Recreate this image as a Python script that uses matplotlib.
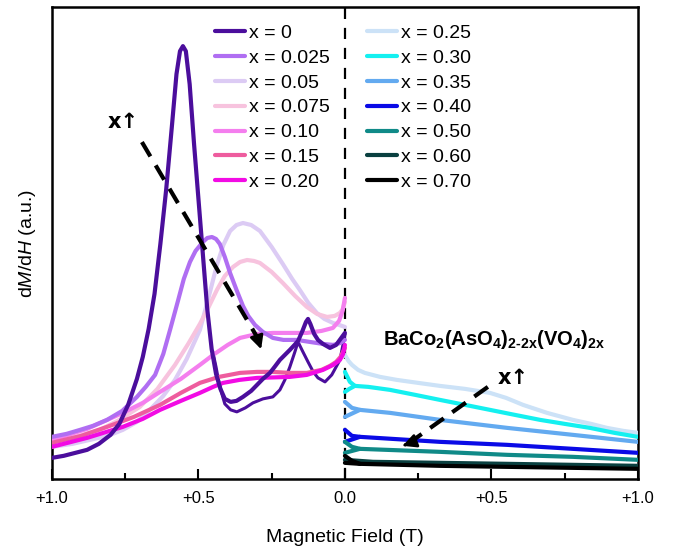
import matplotlib
matplotlib.use("Agg")
import matplotlib.pyplot as plt

plt.rcParams['font.family'] = ['Liberation Sans', 'DejaVu Sans']
plt.rcParams['mathtext.fontset'] = 'custom'
plt.rcParams['mathtext.rm'] = 'Liberation Sans'
plt.rcParams['mathtext.it'] = 'Liberation Sans:italic'
plt.rcParams['mathtext.bf'] = 'Liberation Sans:bold'

# ---- left half: x = 0 ... 0.20 (field -1 .. 0) ----
x0_h = [-1.0, -0.96, -0.92, -0.88, -0.84, -0.80, -0.77, -0.74, -0.71, -0.69, -0.67, -0.65,
        -0.63, -0.61, -0.59, -0.575, -0.563, -0.553, -0.543, -0.53, -0.515, -0.50, -0.485,
        -0.47, -0.455, -0.44, -0.425, -0.41, -0.39, -0.37, -0.348, -0.32, -0.30, -0.28,
        -0.256, -0.24, -0.222, -0.205, -0.188, -0.172, -0.160, -0.145, -0.133, -0.126,
        -0.118, -0.105, -0.092, -0.075, -0.051, -0.03, -0.015, 0.0]
x0_v = [21, 23, 26, 29, 35, 44, 55, 74, 100, 122, 150, 185,
        235, 290, 355, 405, 428, 433, 428, 395, 335, 280, 225,
        170, 130, 105, 90, 80, 77, 78, 82, 88, 94, 100,
        106, 112, 119, 124, 129, 134, 138, 148, 157, 160,
        155, 145, 139, 135, 131, 134, 140, 146]
# return branch of x = 0
x0b_h = [-0.451, -0.44, -0.433, -0.42, -0.41, -0.39, -0.369, -0.34, -0.314, -0.28, -0.246,
         -0.222, -0.205, -0.188, -0.172, -0.160, -0.145, -0.126, -0.108, -0.092, -0.068,
         -0.045, -0.017, 0.0]
x0b_v = [127, 112, 101, 85, 75, 69, 67, 71, 76, 80, 82,
         89, 99, 112, 126, 137, 128, 117, 107, 101, 97,
         104, 119, 144]

x025_h = [-1.0, -0.95, -0.904, -0.86, -0.812, -0.76, -0.71, -0.68, -0.648, -0.62, -0.597,
          -0.57, -0.55, -0.529, -0.51, -0.485, -0.47, -0.454, -0.44, -0.427, -0.41, -0.392,
          -0.37, -0.348, -0.33, -0.307, -0.28, -0.246, -0.21, -0.164, -0.12, -0.075,
          -0.04, -0.015, 0.0]
x025_v = [42, 45, 49, 53, 59, 68, 82, 92, 104, 125, 149,
          178, 200, 217, 228, 237, 241, 242, 240, 235, 222, 206,
          189, 173, 163, 154, 147, 141, 139, 139, 137, 135,
          134, 136, 139]

x05_h = [-1.0, -0.93, -0.87, -0.81, -0.758, -0.71, -0.666, -0.62, -0.58, -0.54, -0.495,
         -0.465, -0.437, -0.415, -0.392, -0.37, -0.348, -0.32, -0.29, -0.25, -0.212, -0.18,
         -0.154, -0.125, -0.096, -0.07, -0.041, -0.02, 0.0]
x05_v = [32, 35, 39, 43, 49, 57, 69, 83, 99, 120, 149,
         182, 214, 234, 248, 254, 256, 254, 248, 232, 215, 200,
         189, 176, 166, 160, 156, 154, 152]

x075_h = [-1.0, -0.92, -0.836, -0.77, -0.70, -0.64, -0.58, -0.535, -0.495, -0.465, -0.437,
          -0.41, -0.382, -0.358, -0.334, -0.31, -0.29, -0.25, -0.212, -0.17, -0.13, -0.095,
          -0.061, -0.035, -0.017, -0.007, 0.0]
x075_v = [37, 42, 49, 59, 72, 90, 114, 135, 155, 172, 189,
          203, 212, 217, 219, 218, 216, 207, 196, 183, 172, 165,
          162, 163, 166, 170, 177]

x10_h = [-1.0, -0.88, -0.758, -0.69, -0.631, -0.56, -0.495, -0.45, -0.40, -0.358, -0.30,
         -0.246, -0.19, -0.13, -0.08, -0.041, -0.02, -0.008, 0.0]
x10_v = [39, 50, 66, 76, 87, 100, 114, 124, 134, 141, 145,
         146, 146, 146, 148, 151, 158, 168, 181]

x15_h = [-1.0, -0.90, -0.812, -0.72, -0.631, -0.56, -0.495, -0.43, -0.358, -0.30, -0.246,
         -0.19, -0.13, -0.08, -0.051, -0.03, -0.015, 0.0]
x15_v = [36, 43, 52, 62, 74, 86, 96, 102, 106, 107, 107,
         106, 106, 109, 113, 117, 122, 131]

x20_h = [-1.0, -0.88, -0.758, -0.69, -0.631, -0.56, -0.495, -0.45, -0.416, -0.36, -0.30,
         -0.24, -0.188, -0.13, -0.075, -0.04, -0.017, -0.006, 0.0]
x20_v = [32, 41, 52, 60, 69, 78, 86, 92, 96, 99, 101,
         101.5, 102, 104, 109, 114, 119, 125, 134]

# ---- right half: x = 0.25 ... 0.70 (field 0 .. +1) ----
x25_h = [0.0, 0.012, 0.024, 0.045, 0.068, 0.12, 0.177, 0.25, 0.324, 0.41, 0.495, 0.55,
         0.608, 0.69, 0.778, 0.84, 0.894, 0.95, 1.0]
x25_v = [124, 118, 114, 109, 106, 102, 99, 96, 93, 90, 86, 81,
         74, 66, 59, 55, 51, 48, 46]

x30_h = [0.0, 0.015, 0.034, 0.08, 0.154, 0.24, 0.324, 0.41, 0.495, 0.58, 0.666, 0.75,
         0.836, 0.92, 1.0]
x30_v = [87, 90, 93, 92, 89, 84, 79, 74, 69, 64, 59, 55, 51, 46, 42]
x30b_h = [0.0, 0.017, 0.034]
x30b_v = [107, 97, 93]

x35_h = [0.0, 0.051, 0.154, 0.324, 0.553, 0.778, 1.0]
x35_v = [62, 69, 66, 59, 51, 44, 37]
x35b_h = [0.0, 0.024, 0.051]
x35b_v = [77, 71, 69]

x40_h = [0.0, 0.051, 0.324, 0.553, 0.778, 1.0]
x40_v = [37, 42, 37, 34, 30, 26]
x40b_h = [0.0, 0.024, 0.051]
x40b_v = [49, 43, 42]

x50_h = [0.0, 0.051, 0.324, 0.553, 0.778, 1.0]
x50_v = [26, 30, 27, 24, 22, 19]
x50b_h = [0.0, 0.024, 0.051]
x50b_v = [37, 32, 30]

x60_h = [0.0, 0.096, 0.553, 1.0]
x60_v = [19, 17, 15, 13]

x70_h = [0.0, 0.051, 0.324, 1.0]
x70_v = [16, 15, 13, 10]
x70b_h = [0.0, 0.024, 0.051]
x70b_v = [23, 18, 15]

left_labels = ['x = 0', 'x = 0.025', 'x = 0.05', 'x = 0.075', 'x = 0.10', 'x = 0.15', 'x = 0.20']
left_colors = ['#4B0E9C', '#B06EF2', '#DCCBF4', '#F7C3DE', '#F47EEE', '#EE5C9E', '#F20BE4']
left_data = [(x0_h, x0_v), (x025_h, x025_v), (x05_h, x05_v), (x075_h, x075_v),
             (x10_h, x10_v), (x15_h, x15_v), (x20_h, x20_v)]

right_labels = ['x = 0.25', 'x = 0.30', 'x = 0.35', 'x = 0.40', 'x = 0.50', 'x = 0.60', 'x = 0.70']
right_colors = ['#CCE2F7', '#14F0F0', '#63AAF0', '#0A0AE6', '#108A88', '#0A4040', '#000000']
right_data = [(x25_h, x25_v), (x30_h, x30_v), (x35_h, x35_v), (x40_h, x40_v),
              (x50_h, x50_v), (x60_h, x60_v), (x70_h, x70_v)]

fig = plt.figure(figsize=(6.75, 5.51), dpi=100)
ax = fig.add_axes([0.077, 0.131, 0.868, 0.856])

lw = 3.0
left_lines = []
for (h, v), c, lab in zip(left_data, left_colors, left_labels):
    ln, = ax.plot(h, v, color=c, lw=lw, label=lab, solid_capstyle='round',
                  solid_joinstyle='round', zorder=3)
    left_lines.append(ln)
ax.plot(x0b_h, x0b_v, color=left_colors[0], lw=2.2, solid_joinstyle='round', zorder=3)
for ln, z in zip(left_lines, [3.6, 3.5, 3.1, 3.2, 3.3, 3.4, 3.45]):
    ln.set_zorder(z)

right_lines = []
for (h, v), c, lab in zip(right_data, right_colors, right_labels):
    ln, = ax.plot(h, v, color=c, lw=lw, label=lab, solid_capstyle='round',
                  solid_joinstyle='round', zorder=3)
    right_lines.append(ln)
for (h, v), c in zip([(x30b_h, x30b_v), (x35b_h, x35b_v), (x40b_h, x40b_v),
                      (x50b_h, x50b_v), (x70b_h, x70b_v)],
                     [right_colors[1], right_colors[2], right_colors[3], right_colors[4], right_colors[6]]):
    ax.plot(h, v, color=c, lw=lw, solid_capstyle='round', zorder=3)

ax.axvline(0, color='black', lw=1.6, ls=(0, (5, 4)), zorder=2)

# arrows
ax.plot([-0.693, -0.300], [337, 142], color='black', lw=3, ls=(0, (4, 2.5)), zorder=5)
ax.annotate('', xy=(-0.283, 127), xytext=(-0.300, 142),
            arrowprops=dict(arrowstyle='-|>,head_length=0.8,head_width=0.4', color='black', lw=2),
            zorder=5)
ax.text(-0.758, 357, 'x↑', fontsize=15, fontweight='bold', family=['DejaVu Sans'],
        ha='center', va='center')

ax.plot([0.488, 0.215], [92, 35], color='black', lw=3, ls=(0, (4, 2.5)), zorder=5)
ax.annotate('', xy=(0.188, 32), xytext=(0.215, 35),
            arrowprops=dict(arrowstyle='-|>,head_length=0.8,head_width=0.4', color='black', lw=2),
            zorder=5)
ax.text(0.573, 101, 'x↑', fontsize=15, fontweight='bold', family=['DejaVu Sans'],
        ha='center', va='center')

ax.text(0.51, 139, r'$\mathbf{BaCo_2(AsO_4)_{2‐2x}(VO_4)_{2x}}$', fontsize=14.5,
        ha='center', va='center')

leg1 = ax.legend(handles=left_lines, loc='upper left', bbox_to_anchor=(0.278, 0.964),
                 frameon=False, fontsize=14, handlelength=1.55, handletextpad=0.2,
                 labelspacing=0.375, borderpad=0, borderaxespad=0)
ax.add_artist(leg1)
ax.legend(handles=right_lines, loc='upper left', bbox_to_anchor=(0.5375, 0.964),
          frameon=False, fontsize=14, handlelength=1.55, handletextpad=0.2,
          labelspacing=0.375, borderpad=0, borderaxespad=0)

ax.set_xlim(-1.0, 1.0)
ax.set_ylim(0, 472)
ax.set_xticks([-1.0, -0.5, 0.0, 0.5, 1.0])
ax.set_xticklabels(['+1.0', '+0.5', '0.0', '+0.5', '+1.0'])
ax.set_xticks([-0.75, -0.25, 0.25, 0.75], minor=True)
ax.set_yticks([])
ax.tick_params(axis='x', which='major', direction='in', length=7, width=1.5,
               labelsize=12, pad=9)
ax.tick_params(axis='x', which='minor', direction='in', length=4, width=1.5)
for s in ax.spines.values():
    s.set_linewidth(1.8)

ax.set_xlabel('Magnetic Field (T)', fontsize=14, labelpad=16)
ax.set_ylabel('d$M$/d$H$ (a.u.)', fontsize=14, labelpad=10)

fig.savefig('out.png', dpi=100)
